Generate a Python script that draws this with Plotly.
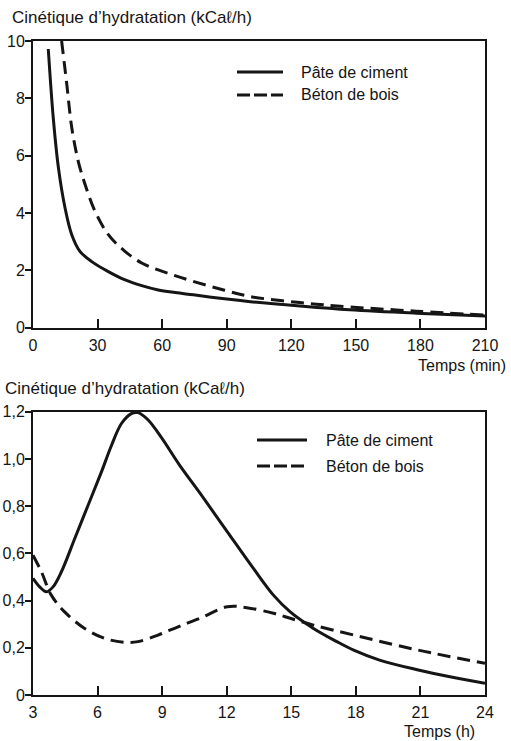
import plotly.graph_objects as go

# ---------------- data ----------------
# Top chart: time in minutes
t_min_paste = [7.1, 9.4, 11.8, 14.9, 18.0, 21.8, 27.3, 35, 42.8, 50.5, 58.2, 66, 74.5, 89, 101, 124, 147, 178, 210]
v_min_paste = [9.72, 7.33, 5.58, 4.17, 3.24, 2.66, 2.30, 1.95, 1.66, 1.46, 1.31, 1.22, 1.14, 1.0, 0.9, 0.75, 0.62, 0.50, 0.40]
t_min_beton = [13.3, 15.7, 18, 21, 24.2, 28.8, 35, 42.7, 50.5, 58.2, 66, 74, 89, 101, 124, 147, 178, 210]
v_min_beton = [10.0, 8.49, 6.98, 5.81, 4.99, 4.06, 3.24, 2.66, 2.25, 2.01, 1.81, 1.62, 1.30, 1.08, 0.87, 0.72, 0.57, 0.43]

# Bottom chart: time in hours
t_h_paste = [3, 3.31, 3.62, 3.93, 4.32, 4.94, 5.56, 6.18, 6.65, 7.11, 7.57, 7.88, 8.35, 8.97, 9.8,
             10.76, 12.03, 13.24, 14.17, 14.95, 16.03, 17.12, 17.9, 19.1, 20.9, 22.37, 24]
v_h_paste = [0.494, 0.458, 0.437, 0.458, 0.522, 0.663, 0.804, 0.945, 1.058, 1.15, 1.192, 1.196, 1.165, 1.09, 0.975,
             0.855, 0.691, 0.536, 0.423, 0.352, 0.282, 0.226, 0.19, 0.148, 0.106, 0.077, 0.05]
t_h_beton = [3, 3.39, 3.85, 4.47, 5.4, 6.33, 7.26, 7.88, 8.81, 9.74, 10.76, 12.03, 12.93, 14.17, 14.95, 16.03, 17.9, 20.9, 24]
v_h_beton = [0.592, 0.522, 0.423, 0.352, 0.282, 0.24, 0.223, 0.226, 0.254, 0.289, 0.325, 0.374, 0.37, 0.346, 0.325,
             0.296, 0.254, 0.19, 0.134]

series_names = ["Pâte de ciment", "Béton de bois"]
y_title = "Cinétique d’hydratation (kCaℓ/h)"
x_title_top = "Temps (min)"
x_title_bottom = "Temps (h)"

top_xticks = [0, 30, 60, 90, 120, 150, 180, 210]
top_yticks = [0, 2, 4, 6, 8, 10]
bot_xticks = [3, 6, 9, 12, 15, 18, 21, 24]
bot_yticks = [0, 0.2, 0.4, 0.6, 0.8, 1.0, 1.2]
bot_yticklabels = ["0", "0,2", "0,4", "0,6", "0,8", "1,0", "1,2"]

# ---------------- layout helpers ----------------
W, H = 511, 741
ML, MR, MT, MB = 33, 26, 41, 46
PW, PH = W - ML - MR, H - MT - MB


def px(x):
    return (x - ML) / PW


def py(y):
    return (H - MB - y) / PH


FONT = "Liberation Sans, Arial, Helvetica, sans-serif"
INK = "#151515"
LW = 3
SM = 1.0

fig = go.Figure()
fig.add_trace(go.Scatter(x=t_min_paste, y=v_min_paste, mode="lines", line=dict(color=INK, width=LW, shape="spline", smoothing=SM),
                         xaxis="x", yaxis="y", showlegend=False, name=series_names[0]))
fig.add_trace(go.Scatter(x=t_min_beton, y=v_min_beton, mode="lines", line=dict(color=INK, width=LW, dash="13px,7px", shape="spline", smoothing=SM),
                         xaxis="x", yaxis="y", showlegend=False, name=series_names[1]))
fig.add_trace(go.Scatter(x=t_h_paste, y=v_h_paste, mode="lines", line=dict(color=INK, width=LW, shape="spline", smoothing=SM),
                         xaxis="x2", yaxis="y2", showlegend=False, name=series_names[0]))
fig.add_trace(go.Scatter(x=t_h_beton, y=v_h_beton, mode="lines", line=dict(color=INK, width=LW, dash="13px,7px", shape="spline", smoothing=SM),
                         xaxis="x2", yaxis="y2", showlegend=False, name=series_names[1]))

top_dom = [py(327.5), 1.0]
bot_dom = [0.0, py(411.7)]

axis_common = dict(showline=True, linecolor=INK, linewidth=2, mirror=True, showgrid=False, zeroline=False,
                   tickcolor=INK, tickwidth=2, tickfont=dict(family=FONT, size=16, color=INK))

fig.update_layout(
    width=W, height=H,
    margin=dict(l=ML, r=MR, t=MT, b=MB, autoexpand=False),
    paper_bgcolor="white", plot_bgcolor="white",
    showlegend=False,
    xaxis=dict(domain=[0, 1], range=[0, 210], tickvals=top_xticks, ticks="inside", ticklen=9,
               anchor="y", ticklabelstandoff=2, **axis_common),
    yaxis=dict(domain=top_dom, range=[0, 10], tickvals=top_yticks, ticks="outside", ticklen=6,
               anchor="x", ticklabelstandoff=-3, **axis_common),
    xaxis2=dict(domain=[0, 1], range=[3, 24], tickvals=bot_xticks, ticks="inside", ticklen=9,
                anchor="y2", ticklabelstandoff=2, **axis_common),
    yaxis2=dict(domain=bot_dom, range=[0, 1.2], tickvals=bot_yticks, ticktext=bot_yticklabels, ticks="outside", ticklen=6,
                anchor="x2", ticklabelstandoff=-3, **axis_common),
)

annots = []
shapes = []


def text(x, y, s, anchor="left", size=16):
    annots.append(dict(x=px(x), y=py(y), xref="paper", yref="paper", text=s, showarrow=False,
                       xanchor=anchor, yanchor="middle", font=dict(family=FONT, size=size, color=INK)))


text(10, 18, y_title, size=17)
text(3, 388, y_title, size=17)
text(508, 365, x_title_top, anchor="right")
text(477, 731, x_title_bottom, anchor="right")


def legend(x0, x1, tx, y_solid, y_dash):
    shapes.append(dict(type="line", xref="paper", yref="paper", x0=px(x0), x1=px(x1), y0=py(y_solid), y1=py(y_solid),
                       line=dict(color=INK, width=LW)))
    shapes.append(dict(type="line", xref="paper", yref="paper", x0=px(x0), x1=px(x1), y0=py(y_dash), y1=py(y_dash),
                       line=dict(color=INK, width=LW, dash="13px,4px")))
    text(tx, y_solid, series_names[0])
    text(tx, y_dash, series_names[1])


legend(237, 283, 299, 72, 95)
legend(257, 307, 324, 440, 466)

fig.update_layout(annotations=annots, shapes=shapes)
fig.write_html("out.html", config={"displayModeBar": False},
               post_script="document.body.style.margin='0';document.body.style.overflow='hidden';")
